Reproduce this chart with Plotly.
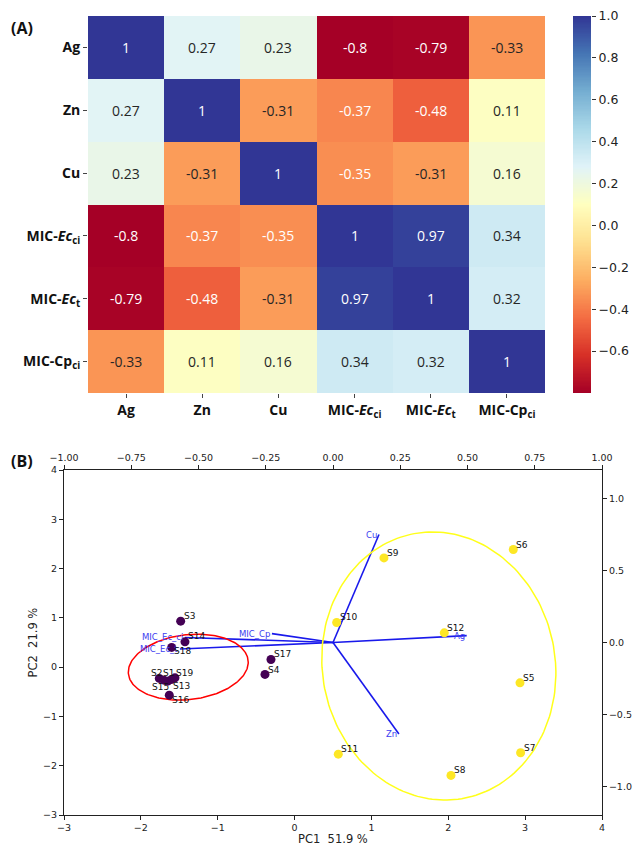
import numpy as np
import plotly.graph_objects as go
from plotly.colors import sample_colorscale

# ---------------- data: (A) correlation heatmap ----------------
var_ticktext = ["<b>Ag</b>", "<b>Zn</b>", "<b>Cu</b>",
                "<b>MIC-<i>Ec</i><sub>ci</sub></b>",
                "<b>MIC-<i>Ec</i><sub>t</sub></b>",
                "<b>MIC-Cp<sub>ci</sub></b>"]
corr = [
    [1.00, 0.27, 0.23, -0.80, -0.79, -0.33],
    [0.27, 1.00, -0.31, -0.37, -0.48, 0.11],
    [0.23, -0.31, 1.00, -0.35, -0.31, 0.16],
    [-0.80, -0.37, -0.35, 1.00, 0.97, 0.34],
    [-0.79, -0.48, -0.31, 0.97, 1.00, 0.32],
    [-0.33, 0.11, 0.16, 0.34, 0.32, 1.00],
]
cbar_ticks = [1.0, 0.8, 0.6, 0.4, 0.2, 0.0, -0.2, -0.4, -0.6]
zmin, zmax = -0.8, 1.0

# ---------------- data: (B) PCA biplot ----------------
samples = ["S1", "S2", "S3", "S4", "S5", "S6", "S7", "S8", "S9", "S10",
           "S11", "S12", "S13", "S14", "S15", "S16", "S17", "S18", "S19"]
pc1 = [-1.651, -1.760, -1.482, -0.385, 2.933, 2.846, 2.941, 2.035, 1.163, 0.548,
       0.569, 1.948, -1.599, -1.426, -1.699, -1.630, -0.307, -1.599, -1.556]
pc2 = [-0.284, -0.229, 0.933, -0.148, -0.318, 2.387, -1.738, -2.197, 2.217, 0.906,
       -1.765, 0.696, -0.249, 0.513, -0.264, -0.568, 0.156, 0.400, -0.217]
group = [0, 0, 0, 0, 1, 1, 1, 1, 1, 1, 1, 1, 0, 0, 0, 0, 0, 0, 0]

loading_names = ["Ag", "Zn", "Cu", "MIC_Ec_ci", "MIC_Ec_t", "MIC_Cp"]
load_x = [0.497, 0.245, 0.171, -0.550, -0.569, -0.227]
load_y = [0.048, -0.636, 0.751, 0.035, -0.045, 0.062]

# ellipses: center x, center y, semi-axis a, semi-axis b, angle (deg)
ell_red = (-1.383, 0.0, 0.80, 0.645, 22.0)
ell_yellow = (1.877, 0.023, 1.52, 2.722, 2.5)

pc1_label = "PC1\u00a0\u00a051.9 %"
pc2_label = "PC2\u00a0\u00a021.9 %"

# ---------------- styles ----------------
W, H = 634, 847
def fx(px): return px / W
def fy(py): return 1 - py / H

heat_dom_x = [fx(88), fx(545)]
heat_dom_y = [fy(393), fy(16)]
cbar_dom_x = [fx(573), fx(591)]
pca_dom_x = [fx(64), fx(602)]
pca_dom_y = [fy(815), fy(470)]

group_colors = ["#440154", "#fde725"]
# label offsets in px (xshift, yshift-up of label centre) relative to the dot
label_offsets = {
    "S3": (2, 5), "S14": (2, 6), "S18": (1, -4), "S2": (-9, 5), "S1": (-6, 8),
    "S19": (0, 5), "S15": (-13, -7), "S13": (0, -7), "S16": (2, -5),
    "S17": (2, 5), "S4": (2, 4),
}
default_offset = (2, 5)

fig = go.Figure()

# heatmap
fig.add_trace(go.Heatmap(
    z=corr, x=list(range(6)), y=list(range(6)),
    colorscale="RdYlBu", zmin=zmin, zmax=zmax, showscale=False,
    xaxis="x", yaxis="y", hoverinfo="skip",
))

# colour scale strip (drawn as its own heatmap so it does not move the margins)
cb_vals = np.linspace(zmin, zmax, 300)
fig.add_trace(go.Heatmap(
    z=[[v] for v in cb_vals], x=[0], y=cb_vals,
    colorscale="RdYlBu", zmin=zmin, zmax=zmax, showscale=False,
    xaxis="x4", yaxis="y4", hoverinfo="skip",
))

def lum(rgbstr):
    vals = [float(v) / 255 for v in rgbstr[rgbstr.find("(") + 1:rgbstr.find(")")].split(",")[:3]]
    lin = [v / 12.92 if v <= 0.03928 else ((v + 0.055) / 1.055) ** 2.4 for v in vals]
    return 0.2126 * lin[0] + 0.7152 * lin[1] + 0.0722 * lin[2]

annotations = []
for i, row in enumerate(corr):
    for j, v in enumerate(row):
        t = (v - zmin) / (zmax - zmin)
        c = sample_colorscale("RdYlBu", [min(max(t, 0), 1)])[0]
        tc = "white" if lum(c) < 0.408 else "#262626"
        annotations.append(dict(x=j, y=i, xref="x", yref="y", text=f"{v:g}", showarrow=False,
                                font=dict(family="Open Sans", size=14, color=tc)))

# arrows (loadings) on top/right axes
for name, lx, ly in zip(loading_names, load_x, load_y):
    fig.add_trace(go.Scatter(x=[0, lx], y=[0, ly], mode="lines", xaxis="x2", yaxis="y2",
                             line=dict(color="rgb(25,25,235)", width=1.6),
                             showlegend=False, hoverinfo="skip"))
    annotations.append(dict(x=lx, y=ly, xref="x2", yref="y2", text=name, showarrow=False,
                            xanchor="right", yanchor="middle", xshift=-1, borderpad=0,
                            font=dict(family="DejaVu Sans", size=8.5, color="rgb(60,60,240)")))

# ellipses
def ellipse(p):
    cx, cy, a, b, ang = p
    t = np.linspace(0, 2 * np.pi, 200)
    th = np.deg2rad(ang)
    x = cx + a * np.cos(t) * np.cos(th) - b * np.sin(t) * np.sin(th)
    y = cy + a * np.cos(t) * np.sin(th) + b * np.sin(t) * np.cos(th)
    return x, y

for p, col in [(ell_red, "red"), (ell_yellow, "#ffff1a")]:
    ex, ey = ellipse(p)
    fig.add_trace(go.Scatter(x=ex, y=ey, mode="lines", xaxis="x3", yaxis="y3",
                             line=dict(color=col, width=1.5), showlegend=False,
                             hoverinfo="skip"))

# scores
fig.add_trace(go.Scatter(x=pc1, y=pc2, mode="markers", xaxis="x3", yaxis="y3",
                         marker=dict(size=9, color=[group_colors[g] for g in group],
                                     line=dict(width=0)),
                         showlegend=False, hoverinfo="skip"))
for s, x, y in zip(samples, pc1, pc2):
    dx, dy = label_offsets.get(s, default_offset)
    annotations.append(dict(x=x, y=y, xref="x3", yref="y3", text=s, showarrow=False,
                            xanchor="left", yanchor="middle", xshift=dx, yshift=dy,
                            borderpad=0,
                            font=dict(family="DejaVu Sans", size=9, color="#111")))

# panel labels and axis titles
annotations += [
    dict(x=fx(9), y=fy(28), xref="paper", yref="paper", text="<b>(A)</b>", showarrow=False,
         xanchor="left", yanchor="middle", font=dict(family="Open Sans", size=16, color="#111")),
    dict(x=fx(9), y=fy(461), xref="paper", yref="paper", text="<b>(B)</b>", showarrow=False,
         xanchor="left", yanchor="middle", font=dict(family="Open Sans", size=16, color="#111")),
    dict(x=fx(333), y=fy(839), xref="paper", yref="paper", text=pc1_label, showarrow=False,
         xanchor="center", yanchor="middle", font=dict(family="DejaVu Sans", size=11.5, color="#222")),
    dict(x=fx(32), y=fy(642.5), xref="paper", yref="paper", text=pc2_label, showarrow=False,
         textangle=-90, xanchor="center", yanchor="middle",
         font=dict(family="DejaVu Sans", size=11.5, color="#222")),
]

tickfont_b = dict(family="DejaVu Sans", size=9.5, color="#222")
axis_common = dict(showgrid=False, zeroline=False, showline=True, linecolor="#222",
                   linewidth=1, ticks="outside", ticklen=4, tickcolor="#222", tickwidth=1,
                   tickfont=tickfont_b, automargin=False)

fig.update_layout(
    width=W, height=H, margin=dict(l=0, r=0, t=0, b=0, autoexpand=False),
    paper_bgcolor="white", plot_bgcolor="white", showlegend=False,
    annotations=annotations,
    xaxis=dict(domain=heat_dom_x, anchor="y", range=[-0.5, 5.5], tickvals=list(range(6)),
               ticktext=var_ticktext, showgrid=False, zeroline=False, showline=False,
               ticks="outside", ticklen=4, tickcolor="#444", automargin=False,
               tickfont=dict(family="Open Sans", size=14, color="#111")),
    yaxis=dict(domain=heat_dom_y, anchor="x", range=[5.5, -0.5], tickvals=list(range(6)),
               ticktext=var_ticktext, showgrid=False, zeroline=False, showline=False,
               ticks="outside", ticklen=4, tickcolor="#444", automargin=False,
               tickfont=dict(family="Open Sans", size=14, color="#111")),
    xaxis4=dict(domain=cbar_dom_x, anchor="y4", range=[-0.5, 0.5], visible=False,
                showgrid=False, zeroline=False),
    yaxis4=dict(domain=heat_dom_y, anchor="x4", side="right", range=[zmin, zmax],
                tickvals=cbar_ticks, tickformat=".1f", showgrid=False, zeroline=False,
                showline=False, ticks="outside", ticklen=4, tickcolor="#333",
                automargin=False,
                tickfont=dict(family="DejaVu Sans", size=12.5, color="#222")),
    xaxis2=dict(domain=pca_dom_x, anchor="y2", side="top", range=[-1, 1],
                tickvals=[-1, -0.75, -0.5, -0.25, 0, 0.25, 0.5, 0.75, 1], tickformat=".2f",
                **axis_common),
    yaxis2=dict(domain=pca_dom_y, anchor="x2", side="right", range=[-1.2, 1.2],
                tickvals=[-1, -0.5, 0, 0.5, 1], tickformat=".1f", **axis_common),
    xaxis3=dict(overlaying="x2", anchor="y3", side="bottom", range=[-3, 4], dtick=1,
                **axis_common),
    yaxis3=dict(overlaying="y2", anchor="x3", side="left", range=[-3, 4], dtick=1,
                **axis_common),
)

# the page's default body margin would shift the figure by 8 px; remove it
fig.write_html("out.html", config={"displayModeBar": False},
               post_script="document.body.style.margin='0px';")
